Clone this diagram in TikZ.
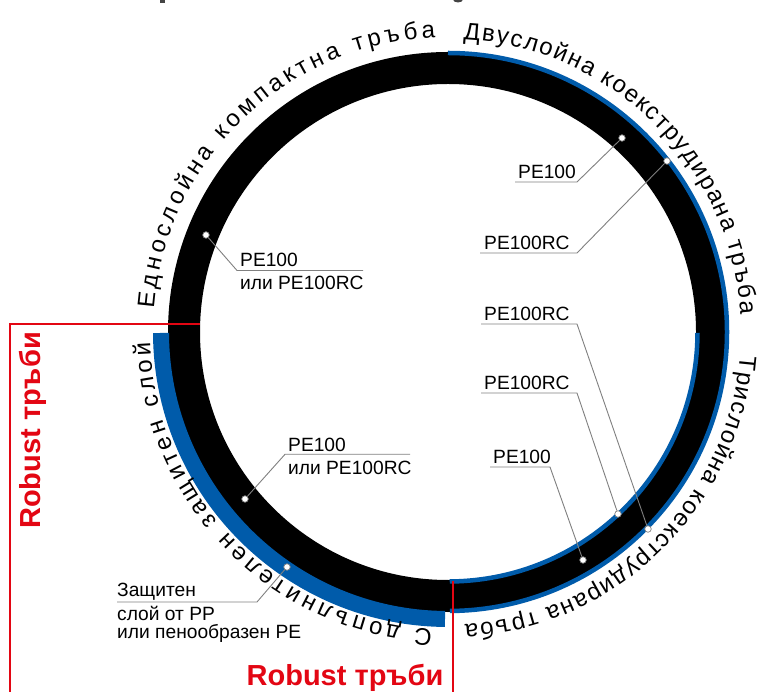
\documentclass[tikz,border=0pt]{standalone}
\usepackage{fontspec}
\setmainfont{Liberation Sans}
\usetikzlibrary{calc,decorations.text}
\definecolor{pipeblue}{HTML}{005BAA}
\definecolor{robred}{HTML}{E30613}
\definecolor{leadgray}{HTML}{808080}
\definecolor{titlegray}{HTML}{444444}
\newcommand\arcfont{\fontsize{24}{28}\selectfont}
\tikzset{
  lbl/.style={anchor=base west, inner sep=0pt, font=\fontsize{19.2}{21}\selectfont},
  redlbl/.style={anchor=base, inner sep=0pt, text=robred, font=\bfseries\fontsize{29}{32}\selectfont},
  leader/.style={draw=leadgray, line width=0.9pt},
  dotmark/.style={circle, draw=leadgray, fill=white, line width=0.7pt, minimum size=6.5pt, inner sep=0pt},
  redline/.style={draw=robred, line width=1.8pt},
  arctext/.style={decorate, decoration={text along path, text align=fit to path, text={|\arcfont|#1}}}
}
\begin{document}
\begin{tikzpicture}[x=1pt,y=1pt]
\fill[white] (0,0) rectangle (757,691);
\useasboundingbox (0,0) rectangle (757,691);
\coordinate (C) at (448,359);

% title fragments (cut off at top)
\fill[titlegray] (160,688) rectangle (164.5,692);
\fill[titlegray] (458,691.5) ellipse (5pt and 3pt);

% black ring
\fill[black, even odd rule] (C) circle (280pt) (C) circle (248pt);

% thick protective layer (bottom-left)
\fill[pipeblue] ($(C)+(180.2:279pt)$) arc[start angle=180.2, end angle=269.4, radius=279pt]
  -- ($(C)+(269.4:295pt)$) arc[start angle=269.4, end angle=180.2, radius=295pt] -- cycle;

% thin outer blue (right half)
\draw[pipeblue, line width=4.5pt] ($(C)+(90:279pt)$) arc[start angle=90, end angle=-89.6, radius=279pt];
% thin inner blue (bottom-right)
\draw[pipeblue, line width=4.5pt] ($(C)+(-0.2:249.5pt)$) arc[start angle=-0.2, end angle=-89.6, radius=249.5pt];

% red lines
\coordinate (r1) at (200,367);
\coordinate (r2) at (10,367);
\coordinate (r3) at (10,-2);
\draw[redline] (r1) -- (r2) -- (r3);
\coordinate (r4) at (453,110);
\coordinate (r5) at (453,-2);
\draw[redline] (r4) -- (r5);

% red labels
\node[redlbl, rotate=90] (rv) at (40,260.5) {Robust тръби};
\node[redlbl] (rh) at (345,6) {Robust тръби};

% arc texts
\begingroup\arcfont
\path[arctext={Еднослойна компактна тръба}] ($(C)+(175.5:295pt)$) arc[start angle=175.5, end angle=92.5, radius=295pt];
\path[arctext={Двуслойна коекструдирана тръба}] ($(C)+(87:293pt)$) arc[start angle=87, end angle=3.5, radius=293pt];
\path[arctext={Трислойна коекструдирана тръба}] ($(C)+(-4.5:293pt)$) arc[start angle=-4.5, end angle=-86.7, radius=293pt];
\path[arctext={С допълнителен защитен слой}] ($(C)+(267:298pt)$) arc[start angle=267, end angle=182, radius=298pt];
\endgroup

% dots
\node[dotmark] (d1) at (622,553) {};
\node[dotmark] (d2) at (667,530) {};
\node[dotmark] (d3) at (206,456) {};
\node[dotmark] (d4) at (648,162) {};
\node[dotmark] (d5) at (618,177) {};
\node[dotmark] (d6) at (583,131) {};
\node[dotmark] (d7) at (245,192) {};
\node[dotmark] (d8) at (287,124) {};

% leaders
\coordinate (s1) at (515,509); \coordinate (k1) at (577,509);
\draw[leader] (s1) -- (k1) -- (d1);
\coordinate (s2) at (480,438); \coordinate (k2) at (577,438);
\draw[leader] (s2) -- (k2) -- (d2);
\coordinate (s3) at (363,420.5); \coordinate (k3) at (237,420.5);
\draw[leader] (s3) -- (k3) -- (d3);
\coordinate (s4) at (481,367); \coordinate (k4) at (577,367);
\draw[leader] (s4) -- (k4) -- (d4);
\coordinate (s5) at (481,298); \coordinate (k5) at (577,298);
\draw[leader] (s5) -- (k5) -- (d5);
\coordinate (s6) at (490,224); \coordinate (k6) at (550,224);
\draw[leader] (s6) -- (k6) -- (d6);
\coordinate (s7) at (410,236.7); \coordinate (k7) at (285,236.7);
\draw[leader] (s7) -- (k7) -- (d7);
\coordinate (s8) at (117,89); \coordinate (k8) at (257,89);
\draw[leader] (s8) -- (k8) -- (d8);

% labels
\node[lbl] (t1) at (518,512.5) {PE100};
\node[lbl] (t2) at (484,441.5) {PE100RC};
\node[lbl] (t3a) at (240,424) {PE100};
\node[lbl] (t3b) at (240,401.5) {или PE100RC};
\node[lbl] (t4) at (484,370.5) {PE100RC};
\node[lbl] (t5) at (484,301.5) {PE100RC};
\node[lbl] (t6) at (493,227.5) {PE100};
\node[lbl] (t7a) at (288,239.5) {PE100};
\node[lbl] (t7b) at (288,217) {или PE100RC};
\node[lbl] (t8a) at (117,95) {Защитен};
\node[lbl] (t8b) at (117,71) {слой от PP};
\node[lbl] (t8c) at (117,52.7) {или пенообразен PE};
\end{tikzpicture}
\end{document}
